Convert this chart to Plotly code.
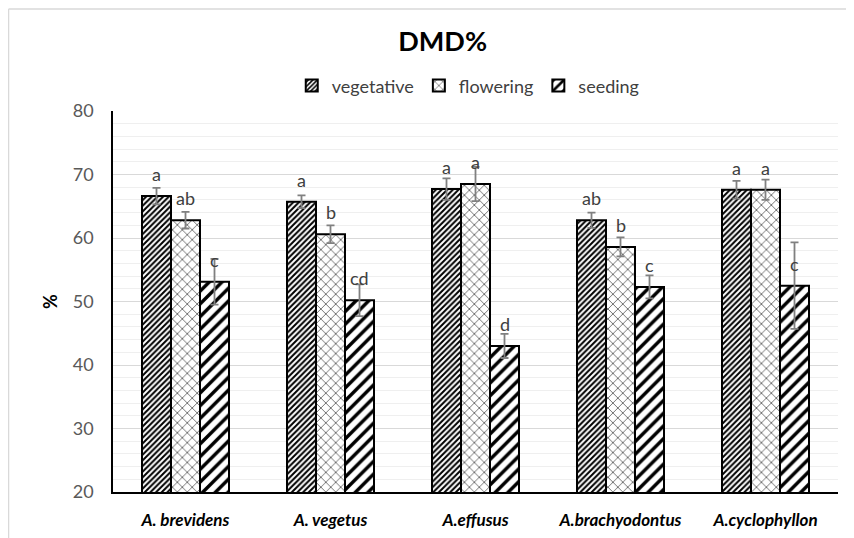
import plotly.graph_objects as go

categories = ["A. brevidens", "A. vegetus", "A.effusus", "A.brachyodontus", "A.cyclophyllon"]
series_names = ["vegetative", "flowering", "seeding"]
vegetative = [66.6, 65.7, 67.7, 62.8, 67.6]
flowering = [62.8, 60.6, 68.5, 58.6, 67.6]
seeding = [53.1, 50.2, 43.0, 52.3, 52.5]
err_vegetative = [1.3, 1.0, 1.7, 1.2, 1.4]
err_flowering = [1.3, 1.4, 2.7, 1.5, 1.6]
err_seeding = [3.6, 2.5, 1.9, 1.8, 6.8]
lab_vegetative = ["a", "a", "a", "ab", "a"]
lab_flowering = ["ab", "b", "a", "b", "a"]
lab_seeding = ["c", "cd", "d", "c", "c"]

values = [vegetative, flowering, seeding]
errors = [err_vegetative, err_flowering, err_seeding]
labels = [lab_vegetative, lab_flowering, lab_seeding]
patterns = [
    dict(shape="/", size=4, solidity=0.5, fgcolor="black", bgcolor="white", fillmode="replace"),
    dict(shape="x", size=7, solidity=0.2, fgcolor="#444444", bgcolor="white", fillmode="replace"),
    dict(shape="/", size=9, solidity=0.38, fgcolor="black", bgcolor="white", fillmode="replace"),
]

FONT = "Lato"
bw = 0.2
offsets = [-0.3, -0.1, 0.1]
xs = list(range(len(categories)))

fig = go.Figure()
annotations = []
for k in range(3):
    fig.add_trace(go.Bar(
        x=xs, y=values[k], name=series_names[k],
        width=bw, offset=offsets[k],
        marker=dict(color="white", pattern=patterns[k], line=dict(color="black", width=2)),
        error_y=dict(type="data", array=errors[k], color="#808080", thickness=1.8, width=4),
    ))
    for i in xs:
        annotations.append(dict(
            x=i + offsets[k] + bw / 2, y=values[k][i], xref="x", yref="y",
            text=labels[k][i], showarrow=False, yanchor="middle", yshift=22,
            font=dict(family=FONT, size=18, color="#404040"),
        ))

shapes = [
    dict(type="line", xref="paper", yref="paper", x0=-0.1441, x1=-0.1441, y0=1.268, y1=-0.2,
         line=dict(color="#d9d9d9", width=1.5)),
    dict(type="line", xref="paper", yref="paper", x0=-0.1441, x1=1.1, y0=1.268, y1=1.268,
         line=dict(color="#d9d9d9", width=1.5)),
]

fig.update_layout(
    width=854, height=538,
    margin=dict(l=105, r=24, t=103, b=54),
    paper_bgcolor="white", plot_bgcolor="white",
    title=dict(text="<b>DMD%</b>", x=0.509, xanchor="center", y=0.937, yanchor="middle",
               font=dict(family=FONT, size=27, color="black")),
    legend=dict(orientation="h", x=0.49, xanchor="center", y=1.066, yanchor="middle",
                font=dict(family=FONT, size=18, color="#404040"),
                itemwidth=30, tracegroupgap=0, traceorder="normal"),
    font=dict(family=FONT),
    annotations=annotations,
    shapes=shapes,
    showlegend=True,
)
fig.update_xaxes(
    range=[-0.5, 4.5], tickvals=xs,
    ticktext=["<b><i>%s</i></b>" % c for c in categories],
    tickfont=dict(family=FONT, size=17, color="black"),
    showline=True, linecolor="black", linewidth=1.5, showgrid=False,
    ticks="", ticklabelstandoff=12, automargin=False,
)
fig.update_yaxes(
    range=[20, 80], dtick=10, tick0=0,
    tickfont=dict(family=FONT, size=18, color="#595959"),
    showline=True, linecolor="black", linewidth=1.5,
    showgrid=True, gridcolor="#d9d9d9", gridwidth=1.3,
    minor=dict(dtick=2, showgrid=True, gridcolor="#efefef", gridwidth=1),
    zeroline=False, ticks="", ticklabelstandoff=14, automargin=False,
    title=dict(text="<b>%</b>", font=dict(family=FONT, size=18, color="black"), standoff=10),
)

fig.write_html("out.html")
